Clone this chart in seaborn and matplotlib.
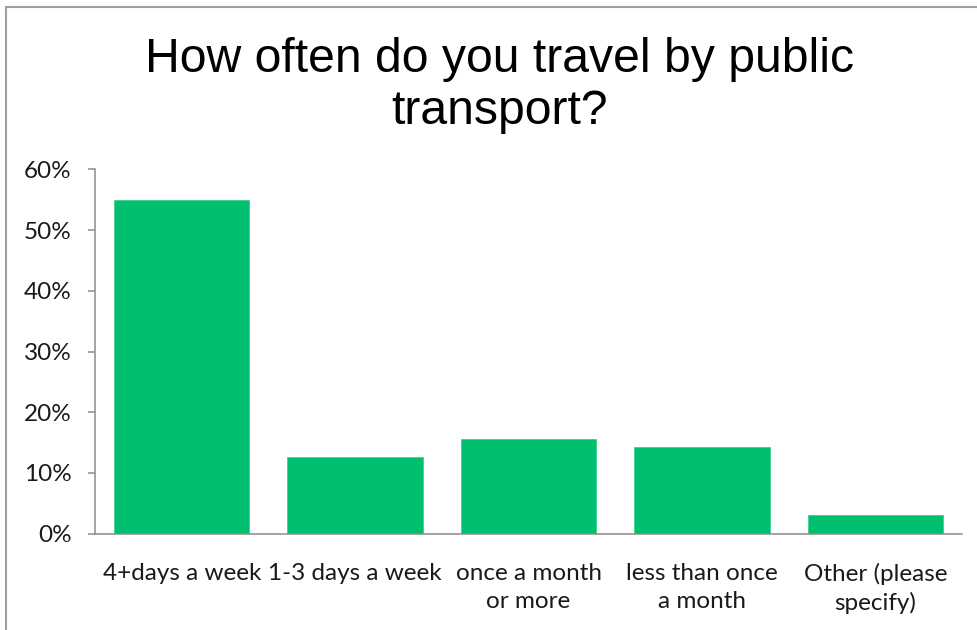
import matplotlib
matplotlib.use("Agg")
import matplotlib.pyplot as plt
import seaborn as sns
import numpy as np
from matplotlib.lines import Line2D
from matplotlib.ticker import FixedLocator, PercentFormatter

categories = ["4+days a week", "1-3 days a week", "once a month\nor more",
              "less than once\na month", "Other (please\nspecify)"]
shares = [0.55, 0.126, 0.156, 0.143, 0.030]
y_ticks = [0.0, 0.1, 0.2, 0.3, 0.4, 0.5, 0.6]
title_lines = ["How often do you travel by public", "transport?"]

sns.set_theme(style="white")
plt.rcParams["font.family"] = ["Lato", "DejaVu Sans"]

W, H = 978, 630
fig = plt.figure(figsize=(W / 100, H / 100), dpi=100)
ax = fig.add_axes([95 / W, 1 - 533.5 / H, (962 - 95) / W, (533.5 - 169.5) / H])

sns.barplot(x=categories, y=shares, color="#00BF6F", saturation=1, width=0.78,
            edgecolor="#3FD090", linewidth=0.6, ax=ax)

axis_grey = "#8C8C8C"
ax.set_ylim(0, 0.6)
ax.set_xlim(-0.5, len(categories) - 0.5)
ax.set_yticks(y_ticks)
ax.yaxis.set_major_formatter(PercentFormatter(1.0, decimals=0))
ax.xaxis.set_minor_locator(FixedLocator(np.arange(-0.5, len(categories), 1.0)))
ax.tick_params(axis="x", which="major", length=0, pad=21, labelsize=17.5, colors="#1a1a1a")
ax.tick_params(axis="x", which="minor", length=5.5, width=1.1, color=axis_grey, direction="out")
ax.tick_params(axis="y", length=5, width=1.1, color=axis_grey, pad=12,
               labelsize=17.5, labelcolor="#1a1a1a", direction="out", left=True)
for lbl in ax.get_xticklabels():
    lbl.set_linespacing(1.42)

for side in ("top", "right"):
    ax.spines[side].set_visible(False)
for side in ("left", "bottom"):
    ax.spines[side].set_color(axis_grey)
    ax.spines[side].set_linewidth(1.1)
ax.set_xlabel("")
ax.set_ylabel("")

# two-line chart title
for line, base_y in zip(title_lines, (72, 124)):
    fig.text(500 / W, 1 - base_y / H, line, ha="center", va="baseline", fontsize=34.7,
             family=["Liberation Sans", "DejaVu Sans"], color="black")

# outer frame (left and top edges)
fig.add_artist(Line2D([6.5 / W, 6.5 / W], [0, 1 - 6.5 / H], color="#A0A0A0", lw=1.5,
                      transform=fig.transFigure))
fig.add_artist(Line2D([6.5 / W, 1], [1 - 6.5 / H, 1 - 6.5 / H], color="#A0A0A0", lw=1.5,
                      transform=fig.transFigure))

fig.savefig("out.png", dpi=100)
